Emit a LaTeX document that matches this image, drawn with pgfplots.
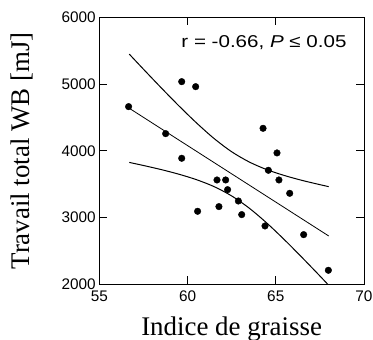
\documentclass[border=0pt]{standalone}
\usepackage{fontspec}
\setmainfont{Liberation Serif}
\newfontfamily\arial{Liberation Sans}
\newfontfamily\arialwide[FakeStretch=1.2]{Liberation Sans}
\usepackage{pgfplots}
\pgfplotsset{compat=1.18}
\begin{document}
\begin{tikzpicture}
\path[use as bounding box] (-99.3bp,-55.7bp) rectangle (273.7bp,284.3bp);
\begin{axis}[
  scale only axis,
  width=264.7bp, height=267bp,
  xmin=55, xmax=70, ymin=2000, ymax=6000,
  xtick={55,60,65,70}, ytick={2000,3000,4000,5000,6000},
  tick align=inside,
  major tick length=8bp,
  axis line style={line width=1bp},
  every tick/.style={black, line width=0.9bp},
  /pgf/number format/assume math mode=true,
  /pgf/number format/1000 sep={},
  tick label style={font=\arial\fontsize{15.4}{15.4}\selectfont},
  xticklabel style={yshift=-3bp},
  xlabel={Indice de graisse},
  ylabel={Travail total WB [mJ]},
  label style={font=\fontsize{27}{27}\selectfont},
  xlabel style={at={(axis description cs:0.5,-0.19)}, anchor=base},
  ylabel style={at={(axis description cs:-0.262,0.5)}, anchor=base},
]
% data points
\addplot[only marks, mark=*, mark size=3.3bp, black] coordinates {
(56.66,4662) (58.76,4257) (59.67,5036) (59.67,3888) (60.46,4961)
(60.57,3094) (61.67,3563) (61.78,3164) (62.16,3563) (62.27,3418)
(62.88,3248) (63.07,3044) (64.28,4337) (64.39,2874) (64.58,3708)
(65.07,3968) (65.18,3563) (65.79,3363) (66.58,2744) (67.98,2210)
};
% regression line
\addplot[black, line width=0.8bp] coordinates {(56.7,4637) (68.0,2724)};
% upper confidence band
\addplot[black, line width=1bp, smooth] coordinates {
(56.7,5448) (57.5,5223) (58.5,4946) (59.5,4676) (60.5,4420) (61.5,4185)
(62.5,3986) (63.5,3832) (64.5,3717) (65.5,3629) (66.5,3556) (67.5,3493) (68.0,3463)
};
% lower confidence band
\addplot[black, line width=1bp, smooth] coordinates {
(56.7,3826) (57.5,3780) (58.5,3719) (59.5,3650) (60.5,3568) (61.5,3464)
(62.5,3324) (63.5,3140) (64.5,2916) (65.5,2665) (66.5,2399) (67.5,2125) (68.0,1985)
};
\node[anchor=base east, inner sep=0pt, font=\arialwide\fontsize{17.2}{17.2}\selectfont]
  at (axis cs:69.02,5551) {r = -0.66, \textit{P} ≤ 0.05};
\end{axis}
\end{tikzpicture}
\end{document}
